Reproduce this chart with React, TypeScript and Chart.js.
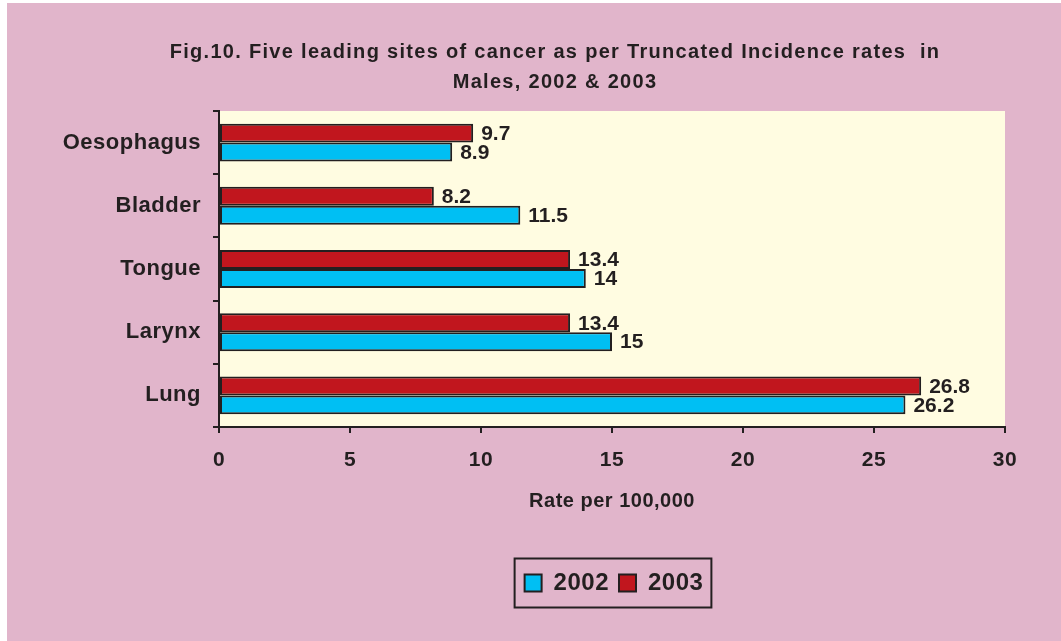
import React, { useEffect, useRef } from 'react';
import { Chart, registerables } from 'chart.js';

Chart.register(...registerables);

// ---- data ----
const categories = ['Oesophagus', 'Bladder', 'Tongue', 'Larynx', 'Lung'];
const values2002 = [8.9, 11.5, 14, 15, 26.2];
const values2003 = [9.7, 8.2, 13.4, 13.4, 26.8];
const seriesNames = ['2002', '2003'];
const titleLines = [
  'Fig.10. Five leading sites of cancer as per Truncated Incidence rates  in',
  'Males, 2002 & 2003',
];
const xAxisTitle = 'Rate per 100,000';
const xMin = 0;
const xMax = 30;
const xStep = 5;

// ---- styles ----
const FONT = '"Liberation Sans", Arial, Helvetica, sans-serif';
const INK = '#231F20';
const BLUE = '#00BFF3';
const RED = '#C1161E';
const PLOT_BG = '#FFFCE1';
const PAGE_BG = '#E1B5CB';

const plotBackground = {
  id: 'plotBackground',
  beforeDraw(chart: any) {
    const { ctx, chartArea: a } = chart;
    ctx.save();
    ctx.fillStyle = PLOT_BG;
    ctx.fillRect(a.left, a.top, a.right - a.left, a.bottom - a.top);
    ctx.restore();
    // slightly spaced lettering for axis / legend text, as in the original
    (ctx as any).letterSpacing = '0.5px';
  },
  beforeDatasetsDraw(chart: any) {
    (chart.ctx as any).letterSpacing = '0px';
  },
  afterDraw(chart: any) {
    (chart.ctx as any).letterSpacing = '0px';
  },
};

const valueLabels = {
  id: 'valueLabels',
  afterDatasetsDraw(chart: any) {
    const { ctx } = chart;
    ctx.save();
    ctx.font = `bold 21px ${FONT}`;
    ctx.fillStyle = INK;
    ctx.textAlign = 'left';
    ctx.textBaseline = 'middle';
    chart.data.datasets.forEach((ds: any, i: number) => {
      const meta = chart.getDatasetMeta(i);
      meta.data.forEach((bar: any, j: number) => {
        ctx.fillText(String(ds.data[j]), bar.x + 8, bar.y + 1);
      });
    });
    ctx.restore();
  },
};

const figureTitle = {
  id: 'figureTitle',
  afterDraw(chart: any) {
    const { ctx } = chart;
    ctx.save();
    ctx.font = `bold 20px ${FONT}`;
    (ctx as any).letterSpacing = '1.3px';
    ctx.fillStyle = INK;
    ctx.textAlign = 'center';
    ctx.textBaseline = 'alphabetic';
    ctx.fillText(titleLines[0], 548, 55);
    ctx.fillText(titleLines[1], 548, 85);
    ctx.restore();
    (ctx as any).letterSpacing = '0px';
  },
};

const legendFrame = {
  id: 'legendFrame',
  afterDraw(chart: any) {
    const lg = chart.legend;
    if (!lg || !lg.legendHitBoxes || !lg.legendHitBoxes.length) return;
    const hb = lg.legendHitBoxes;
    let l = Infinity, r = -Infinity, t = Infinity, b = -Infinity;
    hb.forEach((h: any) => {
      l = Math.min(l, h.left);
      r = Math.max(r, h.left + h.width);
      t = Math.min(t, h.top);
      b = Math.max(b, h.top + h.height);
    });
    const { ctx } = chart;
    ctx.save();
    ctx.strokeStyle = INK;
    ctx.lineWidth = 2;
    ctx.strokeRect(l - 10, t - 12.5, r - l + 22, b - t + 25);
    ctx.restore();
  },
};

export default function App() {
  const ref = useRef<HTMLCanvasElement | null>(null);

  useEffect(() => {
    if (!ref.current) return;
    const chart = new Chart(ref.current, {
      type: 'bar',
      data: {
        labels: categories,
        datasets: [
          {
            label: seriesNames[1],
            data: values2003,
            backgroundColor: RED,
            borderColor: INK,
            borderWidth: 2,
            borderSkipped: false,
            categoryPercentage: 0.6,
            barPercentage: 1,
          },
          {
            label: seriesNames[0],
            data: values2002,
            backgroundColor: BLUE,
            borderColor: INK,
            borderWidth: 2,
            borderSkipped: false,
            categoryPercentage: 0.6,
            barPercentage: 1,
          },
        ],
      },
      options: {
        indexAxis: 'y',
        responsive: false,
        animation: false,
        devicePixelRatio: 1,
        layout: { padding: { left: 0, right: 56, top: 108, bottom: 36 } },
        scales: {
          x: {
            type: 'linear',
            min: xMin,
            max: xMax,
            afterFit: (s: any) => {
              s.height = 134;
            },
            ticks: {
              stepSize: xStep,
              padding: 15,
              color: INK,
              font: { family: FONT, size: 21, weight: 'bold' },
            },
            grid: {
              drawOnChartArea: false,
              drawTicks: true,
              tickLength: 6,
              color: INK,
              lineWidth: 2,
            },
            border: { display: true, color: INK, width: 2 },
            title: {
              display: true,
              text: xAxisTitle,
              color: INK,
              font: { family: FONT, size: 20, weight: 'bold' },
              padding: { top: 0, bottom: 48 },
            },
          },
          y: {
            type: 'category',
            afterFit: (s: any) => {
              s.width = 212;
            },
            ticks: {
              padding: 12,
              color: INK,
              font: { family: FONT, size: 22, weight: 'bold' },
            },
            grid: {
              drawOnChartArea: false,
              drawTicks: true,
              tickLength: 6,
              color: INK,
              lineWidth: 2,
            },
            border: { display: true, color: INK, width: 2 },
          },
        },
        plugins: {
          title: { display: false },
          tooltip: { enabled: false },
          legend: {
            display: true,
            position: 'bottom',
            fullSize: false,
            reverse: true,
            labels: {
              boxWidth: 17,
              boxHeight: 17,
              padding: 10,
              color: INK,
              font: { family: FONT, size: 24, weight: 'bold' },
            },
          },
        },
      },
      plugins: [plotBackground, valueLabels, figureTitle, legendFrame],
    } as any);
    return () => chart.destroy();
  }, []);

  return (
    <div
      style={{
        position: 'fixed',
        left: 7,
        top: 3,
        width: 1054,
        height: 638,
        background: PAGE_BG,
      }}
    >
      <canvas ref={ref} width={1054} height={638} style={{ display: 'block' }} />
    </div>
  );
}
